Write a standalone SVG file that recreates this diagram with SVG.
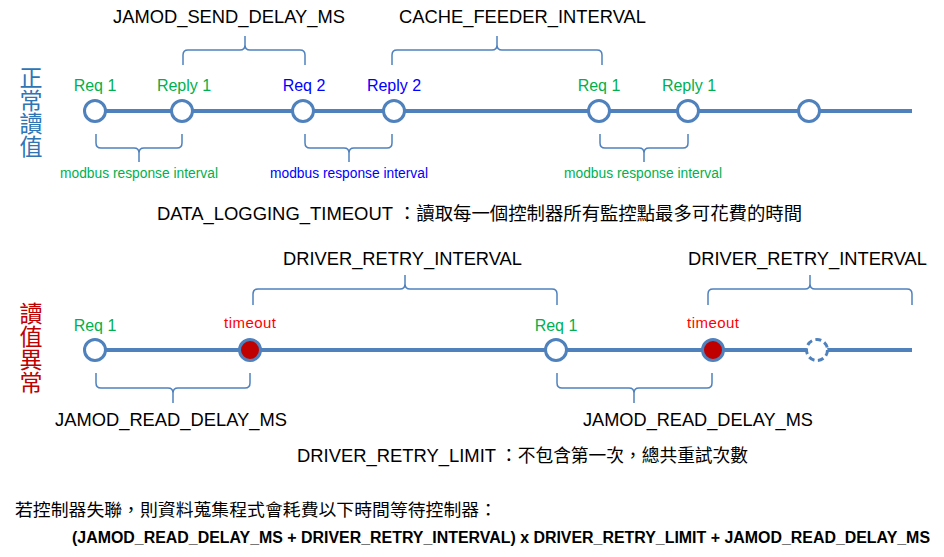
<svg xmlns="http://www.w3.org/2000/svg" width="944" height="557" viewBox="0 0 944 557">
<style>
text{font-family:"Liberation Sans","Noto Sans CJK TC",sans-serif;}
.lbl{font-size:19px;fill:#000;}
.cjk{font-family:"Noto Sans CJK TC","Liberation Sans",sans-serif;}
.vert{font-family:"Noto Sans CJK TC",sans-serif;font-size:23px;writing-mode:vertical-rl;}
.ev{font-size:16px;text-anchor:middle;}
.green{fill:#00B050;}
.blue{fill:#0000FF;}
.red{fill:#FF0000;}
.mod{font-size:14px;text-anchor:middle;}
.tl{stroke:#4F81BD;stroke-width:4;fill:none;}
.br{stroke:#4F81BD;stroke-width:1.5;fill:none;}
.node{stroke:#4F81BD;stroke-width:3;fill:#fff;}
.fail{stroke:#4F81BD;stroke-width:3;fill:#C00000;}
.dash{stroke:#4F81BD;stroke-width:3;fill:#fff;stroke-dasharray:6 3.5;}
</style>
<rect width="944" height="557" fill="#fff"/>

<!-- side titles -->
<text class="vert" x="31" y="66" fill="#2E75B6">正常讀值</text>
<text class="vert" x="31" y="302" fill="#C00000">讀值異常</text>

<!-- connectors: timelines -->
<g id="connectors">
<line class="tl" x1="95" y1="111" x2="912" y2="111"/>
<line class="tl" x1="95" y1="350" x2="912" y2="350"/>
</g>

<!-- brackets -->
<g id="brackets">
<path class="br" d="M183 65 V55 Q183 50 188 50 H240 Q245 50 245 45 V36 M245 45 Q245 50 250 50 H300 Q305 50 305 55 V65"/>
<path class="br" d="M392 65 V55 Q392 50 397 50 H492 Q497 50 497 45 V36 M497 45 Q497 50 502 50 H597 Q602 50 602 55 V65"/>
<path class="br" d="M96 134 V143 Q96 148 101 148 H134 Q139 148 139 153 V162 M139 153 Q139 148 144 148 H177 Q182 148 182 143 V134"/>
<path class="br" d="M305 134 V143 Q305 148 310 148 H344 Q349 148 349 153 V162 M349 153 Q349 148 354 148 H387 Q392 148 392 143 V134"/>
<path class="br" d="M600 134 V143 Q600 148 605 148 H639 Q644 148 644 153 V162 M644 153 Q644 148 649 148 H683 Q688 148 688 143 V134"/>
<path class="br" d="M253 305 V294 Q253 289 258 289 H400 Q405 289 405 284 V275 M405 284 Q405 289 410 289 H552 Q557 289 557 294 V305"/>
<path class="br" d="M708 305 V294 Q708 289 713 289 H805 Q810 289 810 284 V275 M810 284 Q810 289 815 289 H907 Q912 289 912 294 V305"/>
<path class="br" d="M96 373 V383 Q96 388 101 388 H168 Q173 388 173 393 V403 M173 393 Q173 388 178 388 H245 Q250 388 250 383 V373"/>
<path class="br" d="M557 373 V383 Q557 388 562 388 H629 Q634 388 634 393 V403 M634 393 Q634 388 639 388 H707 Q712 388 712 383 V373"/>
</g>

<!-- top timeline nodes -->
<g id="n-req1"><circle class="node" cx="95" cy="111" r="10.5"/><text class="ev green" x="95" y="91">Req 1</text></g>
<g id="n-reply1"><circle class="node" cx="182" cy="111" r="10.5"/><text class="ev green" x="184" y="91">Reply 1</text></g>
<g id="n-req2"><circle class="node" cx="303" cy="111" r="10.5"/><text class="ev blue" x="304" y="91">Req 2</text></g>
<g id="n-reply2"><circle class="node" cx="394" cy="111" r="10.5"/><text class="ev blue" x="394" y="91">Reply 2</text></g>
<g id="n-req1b"><circle class="node" cx="599" cy="111" r="10.5"/><text class="ev green" x="599" y="91">Req 1</text></g>
<g id="n-reply1b"><circle class="node" cx="688" cy="111" r="10.5"/><text class="ev green" x="689" y="91">Reply 1</text></g>
<g id="n-next"><circle class="node" cx="809" cy="111" r="10.5"/></g>

<!-- bottom timeline nodes -->
<g id="f-req1"><circle class="node" cx="95" cy="350" r="10.5"/><text class="ev green" x="95" y="331">Req 1</text></g>
<g id="f-timeout1"><circle class="fail" cx="250" cy="350" r="10.5"/><text class="red" x="250" y="328" font-size="15" text-anchor="middle" textLength="52">timeout</text></g>
<g id="f-req1b"><circle class="node" cx="556" cy="350" r="10.5"/><text class="ev green" x="556" y="331">Req 1</text></g>
<g id="f-timeout2"><circle class="fail" cx="713" cy="350" r="10.5"/><text class="red" x="713" y="328" font-size="15" text-anchor="middle" textLength="52">timeout</text></g>
<g id="f-retry"><circle class="dash" cx="817" cy="350" r="10.5"/></g>

<!-- bracket labels -->
<text class="lbl" x="113" y="23" textLength="232" lengthAdjust="spacingAndGlyphs">JAMOD_SEND_DELAY_MS</text>
<text class="lbl" x="399" y="23" textLength="247" lengthAdjust="spacingAndGlyphs">CACHE_FEEDER_INTERVAL</text>
<text class="mod green" x="139" y="178" textLength="158" lengthAdjust="spacingAndGlyphs">modbus response interval</text>
<text class="mod blue" x="349" y="178" textLength="158" lengthAdjust="spacingAndGlyphs">modbus response interval</text>
<text class="mod green" x="643" y="178" textLength="158" lengthAdjust="spacingAndGlyphs">modbus response interval</text>

<text class="lbl" x="157" y="220" textLength="236" lengthAdjust="spacingAndGlyphs">DATA_LOGGING_TIMEOUT</text>
<text class="lbl cjk" x="398" y="220" style="font-size:18px" textLength="404" lengthAdjust="spacingAndGlyphs">：讀取每一個控制器所有監控點最多可花費的時間</text>

<text class="lbl" x="283" y="265" textLength="239" lengthAdjust="spacingAndGlyphs">DRIVER_RETRY_INTERVAL</text>
<text class="lbl" x="688" y="265" textLength="239" lengthAdjust="spacingAndGlyphs">DRIVER_RETRY_INTERVAL</text>
<text class="lbl" x="55" y="426" textLength="232" lengthAdjust="spacingAndGlyphs">JAMOD_READ_DELAY_MS</text>
<text class="lbl" x="583" y="426" textLength="230" lengthAdjust="spacingAndGlyphs">JAMOD_READ_DELAY_MS</text>

<text class="lbl" x="297" y="462" textLength="199" lengthAdjust="spacingAndGlyphs">DRIVER_RETRY_LIMIT</text>
<text class="lbl cjk" x="500" y="462" style="font-size:18px" textLength="248" lengthAdjust="spacingAndGlyphs">：不包含第一次，總共重試次數</text>

<text class="cjk" x="15" y="516" font-size="17" fill="#000" textLength="482" lengthAdjust="spacingAndGlyphs">若控制器失聯，則資料蒐集程式會耗費以下時間等待控制器：</text>
<text x="72" y="543" font-size="16" font-weight="bold" fill="#000" textLength="858" lengthAdjust="spacingAndGlyphs">(JAMOD_READ_DELAY_MS + DRIVER_RETRY_INTERVAL) x DRIVER_RETRY_LIMIT + JAMOD_READ_DELAY_MS</text>
</svg>
